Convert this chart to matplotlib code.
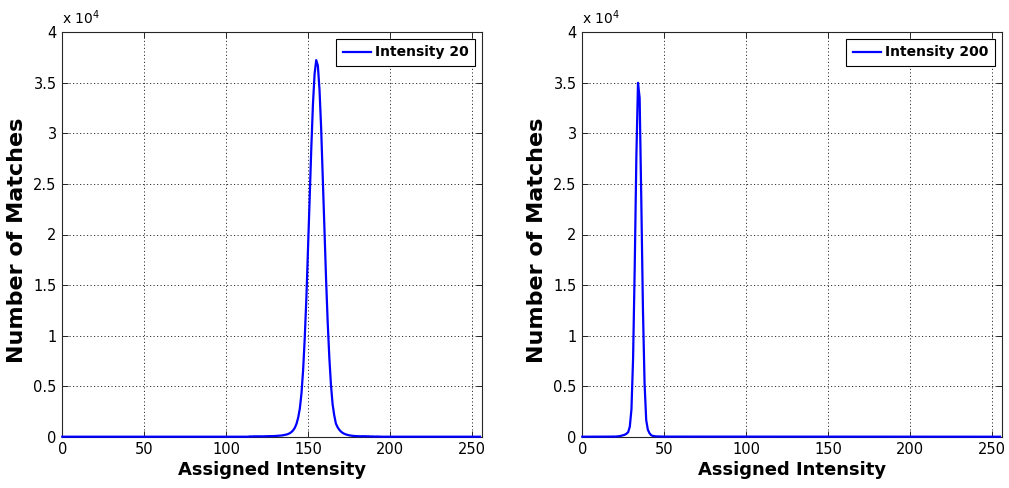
import numpy as np
import matplotlib
matplotlib.use("Agg")
import matplotlib.pyplot as plt
from matplotlib.ticker import FuncFormatter, MultipleLocator

# Histogram of assigned intensities (bins 0..255); non-zero counts start at *_start
intensity_bins = np.arange(256)

left_label = "Intensity 20"
left_start = 112
left_counts = [
    10, 0, 20, 30, 20, 40, 30, 40, 30, 40,            # 112-121
    30, 40, 40, 50, 50, 50, 60, 60, 70, 70,           # 122-131
    80, 100, 120, 150, 180, 220, 280, 360, 480, 650,  # 132-141
    900, 1300, 1900, 2800, 4300, 6600, 9800, 13800,   # 142-149
    18600, 23600, 28600, 32900, 35900, 37250, 36700,  # 150-156
    34300, 30500, 25700, 20600, 15600, 11300, 7800,   # 157-163
    5100, 3200, 2100, 1300, 950, 700, 520, 390,       # 164-171
    300, 230, 180, 140, 110, 90, 70, 60, 50, 50,      # 172-181
    40, 50, 40, 50, 30, 40, 20, 30, 20, 10,           # 182-191
    20, 10, 10, 0,                                    # 192-195
]

right_label = "Intensity 200"
right_start = 18
right_counts = [
    10, 20, 10, 20, 40, 60, 100, 150, 200, 300,       # 18-27
    450, 1000, 2700, 7750, 16800, 27700, 35000,       # 28-34
    33500, 23500, 12750, 5300, 1650, 700, 350,        # 35-41
    150, 80, 50, 30, 30, 20, 20, 10, 10, 10,          # 42-51
    10, 10, 10, 0,                                    # 52-55
]


def full_histogram(start, counts):
    h = np.zeros(len(intensity_bins))
    h[start:start + len(counts)] = counts
    return h


fig = plt.figure(figsize=(10.09, 4.88), dpi=100)
axes_boxes = [
    [62.3 / 1009, 51.3 / 488, 419.4 / 1009, 404.4 / 488],
    [582.3 / 1009, 51.3 / 488, 419.4 / 1009, 404.4 / 488],
]
series = [
    (left_label, full_histogram(left_start, left_counts)),
    (right_label, full_histogram(right_start, right_counts)),
]

for box, (label, counts) in zip(axes_boxes, series):
    ax = fig.add_axes(box)
    ax.plot(intensity_bins, counts, color=(0, 0, 1), lw=1.6,
            label=label, clip_on=False, zorder=3)
    ax.set_xlim(0, 256)
    ax.set_ylim(0, 40000)
    ax.xaxis.set_major_locator(MultipleLocator(50))
    ax.yaxis.set_major_locator(MultipleLocator(5000))
    ax.yaxis.set_major_formatter(FuncFormatter(lambda v, _: f"{v / 1e4:g}"))
    ax.grid(True, color="#333333", linestyle=(0, (1.2, 2.4)), linewidth=0.7)
    ax.set_axisbelow(True)
    for sp in ax.spines.values():
        sp.set_color("#262626")
        sp.set_linewidth(0.8)
    ax.tick_params(direction="in", length=4, width=0.7, top=True, right=True,
                   labelsize=10.5, pad=4, colors="#262626", labelcolor="black")
    ax.set_xlabel("Assigned Intensity", fontsize=13, fontweight="bold", labelpad=3)
    ax.set_ylabel("Number of Matches", fontsize=16, fontweight="bold")
    ax.yaxis.set_label_coords(-0.085, 0.485)
    ax.text(0.0, 1.012, r"x 10$^4$", transform=ax.transAxes, fontsize=10,
            ha="left", va="bottom")
    leg = ax.legend(loc="upper right", fancybox=False, framealpha=1,
                    edgecolor="black", handlelength=2.0, handletextpad=0.3,
                    borderpad=0.5, borderaxespad=0.45,
                    prop={"weight": "bold", "size": 10})
    leg.get_frame().set_linewidth(0.8)

fig.savefig("out.png", dpi=100)
